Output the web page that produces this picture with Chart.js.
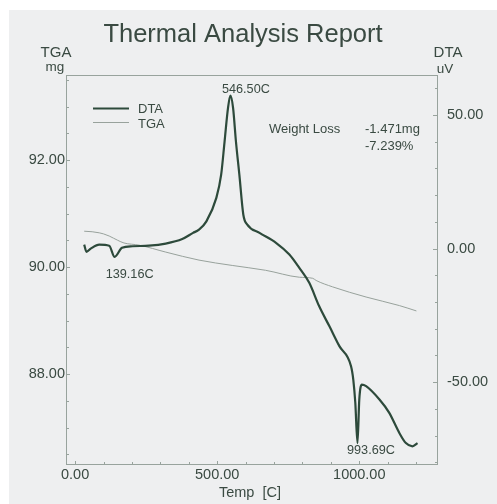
<!DOCTYPE html>
<html>
<head>
<meta charset="utf-8">
<title>Thermal Analysis Report</title>
<script src="https://cdn.jsdelivr.net/npm/chart.js@4.4.1/dist/chart.umd.min.js"></script>
<style>
  html, body { margin: 0; padding: 0; background: #fff; }
  #wrap { width: 497px; height: 504px; }
</style>
</head>
<body>
<div id="wrap"><canvas id="chart" width="497" height="504"></canvas></div>
<script>
// DTA trace (temperature in C, signal in uV)
var dtaTemp = [32, 40, 55, 85, 120, 139.16, 165, 202, 260, 319, 377, 415, 436, 462, 497, 514, 526, 538, 546.5,
               556, 566, 578, 592, 606, 649, 708, 754, 789, 824, 859, 895, 930, 971, 979, 986, 993.69,
               1000, 1009, 1024, 1071, 1105, 1141, 1164, 1187, 1205];
var dtaValue = [1.5, -1.2, 0, 1.5, 1.1, -3.1, 0.3, 0.9, 1.1, 1.9, 3.6, 5.9, 7.1, 10.2, 19.0, 27.7, 40.1, 52.6, 57.3,
                52.6, 40.1, 27.7, 12.7, 9.0, 5.9, 2.1, -2.2, -7.2, -12.8, -21.6, -29.1, -36.5, -44.0, -49.1, -57.7, -72.8,
                -56.5, -50.9, -51.5, -56.5, -61.4, -69.0, -72.8, -74.0, -72.8];

// TGA trace (temperature in C, mass in mg)
var tgaTemp = [32, 60, 85, 100, 120, 150, 172, 225, 319, 436, 553, 670, 789, 836, 848, 906, 1024, 1141, 1201];
var tgaValue = [90.67, 90.66, 90.64, 90.62, 90.58, 90.50, 90.45, 90.41, 90.28, 90.13, 90.03, 89.94, 89.81,
                89.79, 89.75, 89.63, 89.44, 89.28, 89.18];

// marked peaks
var peakTemp = [139.16, 546.5, 993.69];
var peakValue = [-3.1, 57.3, -72.8];
var peakText = ['139.16C', '546.50C', '993.69C'];

// axis ticks
var tempTicks = [0, 100, 200, 300, 400, 500, 600, 700, 800, 900, 1000, 1100, 1200];
var tempLabels = [0, 500, 1000];
var tgaTicks = [86.5, 87, 87.5, 88, 88.5, 89, 89.5, 90, 90.5, 91, 91.5, 92, 92.5, 93, 93.5];
var tgaLabels = [88, 90, 92];
var dtaTicks = [-80, -70, -60, -50, -40, -30, -20, -10, 0, 10, 20, 30, 40, 50, 60];
var dtaLabels = [-50, 0, 50];

var weightLoss = ['-1.471mg', '-7.239%'];

var FONT = '"Liberation Sans", Arial, Helvetica, sans-serif';
var TEXT = '#3a4a42';
var FRAME = '#98a39d';
var DTA_COLOR = '#2d4a3b';
var TGA_COLOR = '#98a29c';

function points(xs, ys) {
    var out = [];
    for (var i = 0; i < xs.length; i++) out.push({x: xs[i], y: ys[i]});
    return out;
}

function setTicks(list) {
    return function(axis) { axis.ticks = list.map(function(v) { return {value: v}; }); };
}

function labelFor(list) {
    return function(v) { return list.indexOf(v) >= 0 ? v.toFixed(2) : ''; };
}

// frame, inward tick marks and all the report text
var reportPlugin = {
    id: 'report',
    beforeDraw: function(chart) {
        var ctx = chart.ctx;
        ctx.save();
        ctx.fillStyle = '#ffffff';
        ctx.fillRect(0, 0, chart.width, chart.height);
        ctx.fillStyle = '#eeeff0';
        ctx.fillRect(9, 10, chart.width - 9, chart.height - 10);
        ctx.restore();
    },
    beforeDatasetsDraw: function(chart) {
        var ctx = chart.ctx, a = chart.chartArea;
        var sx = chart.scales.x, sl = chart.scales.yTGA, sr = chart.scales.yDTA;
        ctx.save();
        ctx.strokeStyle = FRAME;
        ctx.lineWidth = 1;
        ctx.strokeRect(Math.round(a.left) + 0.5, Math.round(a.top) + 0.5,
                       Math.round(a.right - a.left) - 1, Math.round(a.bottom - a.top) - 1);
        ctx.beginPath();
        sx.ticks.forEach(function(t) {
            var px = Math.round(sx.getPixelForValue(t.value)) + 0.5;
            var len = tempLabels.indexOf(t.value) >= 0 ? 4 : 3;
            ctx.moveTo(px, a.bottom);
            ctx.lineTo(px, a.bottom - len);
        });
        sl.ticks.forEach(function(t) {
            var py = Math.round(sl.getPixelForValue(t.value)) + 0.5;
            var len = tgaLabels.indexOf(t.value) >= 0 ? 4 : 3;
            ctx.moveTo(a.left, py);
            ctx.lineTo(a.left + len, py);
        });
        sr.ticks.forEach(function(t) {
            var py = Math.round(sr.getPixelForValue(t.value)) + 0.5;
            var len = dtaLabels.indexOf(t.value) >= 0 ? 5 : 3;
            ctx.moveTo(a.right, py);
            ctx.lineTo(a.right - len, py);
        });
        ctx.stroke();
        ctx.restore();
    },
    afterDatasetsDraw: function(chart) {
        var ctx = chart.ctx;
        var sx = chart.scales.x, sr = chart.scales.yDTA;
        ctx.save();
        ctx.fillStyle = TEXT;
        ctx.textBaseline = 'alphabetic';

        ctx.textAlign = 'center';
        ctx.font = '25.5px ' + FONT;
        ctx.fillText('Thermal Analysis Report', 243, 42);

        ctx.font = '15px ' + FONT;
        ctx.fillText('TGA', 56, 56.5);
        ctx.fillText('DTA', 448, 56.5);
        ctx.font = '13.5px ' + FONT;
        ctx.fillText('mg', 55, 70.5);
        ctx.fillText('uV', 445, 72.5);

        ctx.font = '14.5px ' + FONT;
        ctx.fillText('Temp  [C]', 250, 497);

        // legend
        ctx.strokeStyle = DTA_COLOR;
        ctx.lineWidth = 2.2;
        ctx.beginPath(); ctx.moveTo(93, 108.5); ctx.lineTo(129, 108.5); ctx.stroke();
        ctx.strokeStyle = TGA_COLOR;
        ctx.lineWidth = 1;
        ctx.beginPath(); ctx.moveTo(93, 122.5); ctx.lineTo(129, 122.5); ctx.stroke();
        ctx.textAlign = 'left';
        ctx.font = '13px ' + FONT;
        ctx.fillText('DTA', 138, 113.3);
        ctx.fillText('TGA', 138, 127.7);

        ctx.fillText('Weight Loss', 269, 132.7);
        ctx.fillText(weightLoss[0], 365, 132.7);
        ctx.fillText(weightLoss[1], 365, 149.5);

        // peak temperatures
        var dx = [15, 15.5, 13.5], dy = [18, -6, 7];
        ctx.textAlign = 'center';
        ctx.textBaseline = 'middle';
        ctx.font = '12.7px ' + FONT;
        for (var i = 0; i < peakTemp.length; i++) {
            ctx.fillText(peakText[i], sx.getPixelForValue(peakTemp[i]) + dx[i],
                         sr.getPixelForValue(peakValue[i]) + dy[i]);
        }
        ctx.restore();
    }
};

var chart = new Chart(document.getElementById('chart'), {
    type: 'line',
    data: {
        datasets: [{
            label: 'DTA',
            data: points(dtaTemp, dtaValue),
            yAxisID: 'yDTA',
            borderColor: DTA_COLOR,
            borderWidth: 2.2,
            pointRadius: 0,
            cubicInterpolationMode: 'monotone'
        }, {
            label: 'TGA',
            data: points(tgaTemp, tgaValue),
            yAxisID: 'yTGA',
            borderColor: TGA_COLOR,
            borderWidth: 1,
            pointRadius: 0,
            cubicInterpolationMode: 'monotone'
        }]
    },
    options: {
        responsive: false,
        animation: false,
        devicePixelRatio: 1,
        layout: { padding: { top: 75, left: 0, right: 0, bottom: 0 } },
        plugins: {
            legend: { display: false },
            tooltip: { enabled: false },
            title: { display: false }
        },
        scales: {
            x: {
                type: 'linear',
                min: -32,
                max: 1277,
                afterBuildTicks: setTicks(tempTicks),
                afterFit: function(axis) { axis.height = 39; },
                grid: { display: false, drawTicks: false, tickLength: 0 },
                border: { display: false },
                ticks: {
                    autoSkip: false, maxRotation: 0, padding: 1, color: TEXT,
                    font: { family: FONT, size: 14.5 },
                    callback: labelFor(tempLabels)
                }
            },
            yTGA: {
                type: 'linear',
                position: 'left',
                min: 86.30,
                max: 93.59,
                afterBuildTicks: setTicks(tgaTicks),
                afterFit: function(axis) { axis.width = 66; },
                grid: { display: false, drawTicks: false, tickLength: 0 },
                border: { display: false },
                ticks: {
                    autoSkip: false, padding: 1, color: TEXT,
                    font: { family: FONT, size: 14.5 },
                    callback: labelFor(tgaLabels)
                }
            },
            yDTA: {
                type: 'linear',
                position: 'right',
                min: -81,
                max: 65,
                afterBuildTicks: setTicks(dtaTicks),
                afterFit: function(axis) { axis.width = 59; },
                grid: { display: false, drawTicks: false, tickLength: 0 },
                border: { display: false },
                ticks: {
                    autoSkip: false, padding: 9, color: TEXT,
                    font: { family: FONT, size: 14.5 },
                    callback: labelFor(dtaLabels)
                }
            }
        }
    },
    plugins: [reportPlugin]
});
</script>
</body>
</html>
